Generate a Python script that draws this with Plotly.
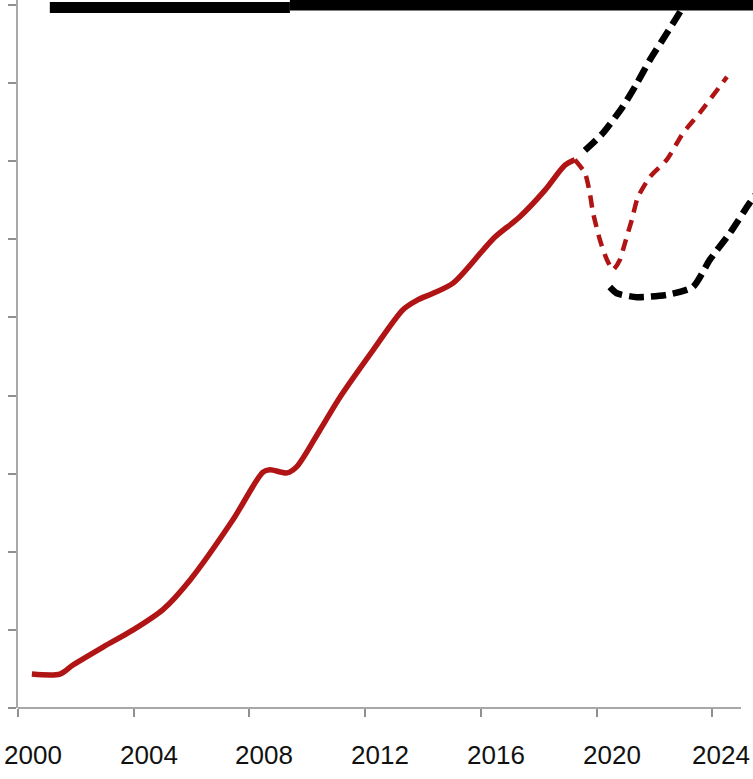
import plotly.graph_objects as go

# Actual series (solid red)
actual_years = [2000.48, 2001.45, 2001.90, 2002.94, 2003.98, 2005.01, 2005.95, 2007.43,
                2008.47, 2008.71, 2009.30, 2009.64, 2010.44, 2011.13, 2012.27, 2013.31,
                2013.79, 2014.35, 2015.04, 2016.07, 2016.49, 2017.35, 2018.22, 2018.91, 2019.25]
actual_values = [0.435, 0.435, 0.55, 0.78, 1.00, 1.26, 1.64, 2.41,
                 3.02, 3.05, 3.01, 3.09, 3.56, 3.98, 4.58, 5.10,
                 5.22, 5.31, 5.44, 5.86, 6.03, 6.29, 6.63, 6.95, 7.02]

# Projection (dashed red)
proj_years = [2019.25, 2019.60, 2019.77, 2019.88, 2020.12, 2020.36, 2020.57, 2020.81,
              2020.98, 2021.22, 2021.43, 2021.85, 2022.43, 2022.99, 2023.57, 2024.51]
proj_values = [7.02, 6.85, 6.59, 6.34, 5.99, 5.74, 5.61, 5.74,
               5.95, 6.25, 6.54, 6.80, 7.02, 7.36, 7.62, 8.08]

# Upper bound (dashed black)
upper_years = [2019.60, 2020.22, 2020.91, 2021.40, 2021.85, 2022.43, 2022.99, 2023.20]
upper_values = [7.14, 7.36, 7.70, 8.00, 8.30, 8.64, 8.98, 9.20]

# Lower bound (dashed black)
lower_years = [2020.46, 2020.70, 2021.40, 2022.43, 2023.33, 2023.92, 2024.61, 2025.30, 2025.60]
lower_values = [5.39, 5.31, 5.26, 5.29, 5.39, 5.74, 6.08, 6.47, 6.62]

# Top reference level (thick black)
top1_years = [2001.1, 2009.4]
top1_values = [8.97, 8.97]
top2_years = [2009.4, 2025.6]
top2_values = [9.00, 9.00]

x_ticks = [2000, 2004, 2008, 2012, 2016, 2020, 2024]
x_tick_labels = ["2000", "2004", "2008", "2012", "2016", "2020", "2024"]
y_ticks = list(range(0, 10))

RED = "#B01414"
X_MAX = 2025.41

fig = go.Figure()
fig.add_trace(go.Scatter(x=top1_years, y=top1_values, mode="lines",
                         line=dict(color="black", width=11), showlegend=False))
fig.add_trace(go.Scatter(x=top2_years, y=top2_values, mode="lines",
                         line=dict(color="black", width=11), showlegend=False))
fig.add_trace(go.Scatter(x=actual_years, y=actual_values, mode="lines",
                         line=dict(color=RED, width=5.5, shape="spline", smoothing=0.8),
                         showlegend=False))
fig.add_trace(go.Scatter(x=proj_years, y=proj_values, mode="lines",
                         line=dict(color=RED, width=4.5, dash="12px,8px", shape="spline", smoothing=0.6),
                         showlegend=False))
fig.add_trace(go.Scatter(x=upper_years, y=upper_values, mode="lines",
                         line=dict(color="black", width=6.5, dash="15px,7px", shape="spline", smoothing=0.6),
                         showlegend=False))
fig.add_trace(go.Scatter(x=lower_years, y=lower_values, mode="lines",
                         line=dict(color="black", width=6.5, dash="15px,7px", shape="spline", smoothing=0.6),
                         showlegend=False))

# x-axis line (ends short of right edge as in reference)
fig.add_shape(type="line", xref="paper", yref="paper", x0=0, x1=(741 - 18) / 735, y0=0, y1=0,
              line=dict(color="#a8a8a8", width=2), layer="below")

# tick labels, drawn slightly right of their tick marks as in the reference
for i, (v, t) in enumerate(zip(x_ticks, x_tick_labels)):
    last = i == len(x_ticks) - 1
    fig.add_annotation(x=(v + 0.52) if not last else X_MAX - 0.05, xref="x", y=-0.066, yref="paper",
                       text=t, showarrow=False, xanchor="right" if last else "center",
                       yanchor="middle",
                       font=dict(family="Liberation Sans, Arial", size=26, color="#111111"))

fig.update_layout(
    width=753, height=779,
    margin=dict(l=18, r=0, t=0, b=71),
    paper_bgcolor="white", plot_bgcolor="white",
    hovermode=False,
    xaxis=dict(range=[2000, X_MAX], tickvals=x_ticks, showticklabels=False, automargin=False,
               showgrid=False, zeroline=False, showline=False,
               ticks="outside", ticklen=8, tickwidth=2, tickcolor="#909090"),
    yaxis=dict(range=[0, 9.065], tickvals=y_ticks, showticklabels=False, automargin=False,
               showgrid=False, zeroline=False, showline=True, linecolor="#a8a8a8", linewidth=2,
               ticks="outside", ticklen=8, tickwidth=2, tickcolor="#909090"),
)

fig.write_html("out.html", config={"displayModeBar": False},
               post_script="document.body.style.margin='0';document.body.style.overflow='hidden';")
